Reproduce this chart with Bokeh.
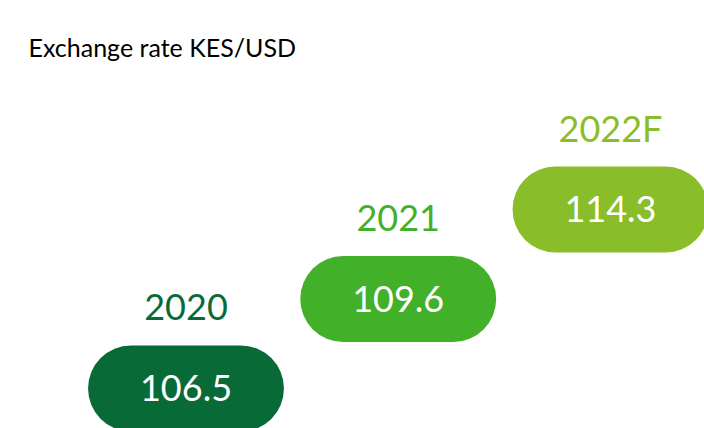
from bokeh.plotting import figure
from bokeh.models import Range1d, ColumnDataSource
from bokeh.core.properties import value
from bokeh.embed import file_html
from bokeh.resources import INLINE

# data
years = ["2020", "2021", "2022F"]
rates = [106.5, 109.6, 114.3]
colors = ["#086B37", "#43B02A", "#8ABD2A"]
title_text = "Exchange rate KES/USD"

step = list(range(len(years)))
src = ColumnDataSource(dict(
    x=step, y=step, year=years,
    rate=[f"{r:.1f}" for r in rates], color=colors,
))

p = figure(width=704, height=428, output_backend="svg", toolbar_location=None,
           x_range=Range1d(-0.874, 2.443), y_range=Range1d(-0.447, 4.335),
           min_border=0)
p.xaxis.visible = False
p.yaxis.visible = False
p.grid.visible = False
p.outline_line_color = None
p.background_fill_color = "white"
p.border_fill_color = "white"

p.rect(x="x", y="y", width=0.923, height=86, height_units="screen",
       fill_color="color", line_color=None, border_radius=43, source=src)

p.text(x="x", y="y", text="rate", text_color="white", text_font=value("Lato"),
       text_font_size="36px", text_align="center", text_baseline="middle",
       source=src)

p.text(x="x", y="y", text="year", text_color="color", text_font=value("Lato"),
       text_font_size="36px", text_align="center", text_baseline="middle",
       y_offset=-81, source=src)

p.text(x=[-0.742], y=[3.81], text=[title_text], text_color="black",
       text_font=value("Lato"), text_font_size="25px", text_align="left",
       text_baseline="alphabetic")

open("out.html", "w").write(file_html(p, INLINE))
